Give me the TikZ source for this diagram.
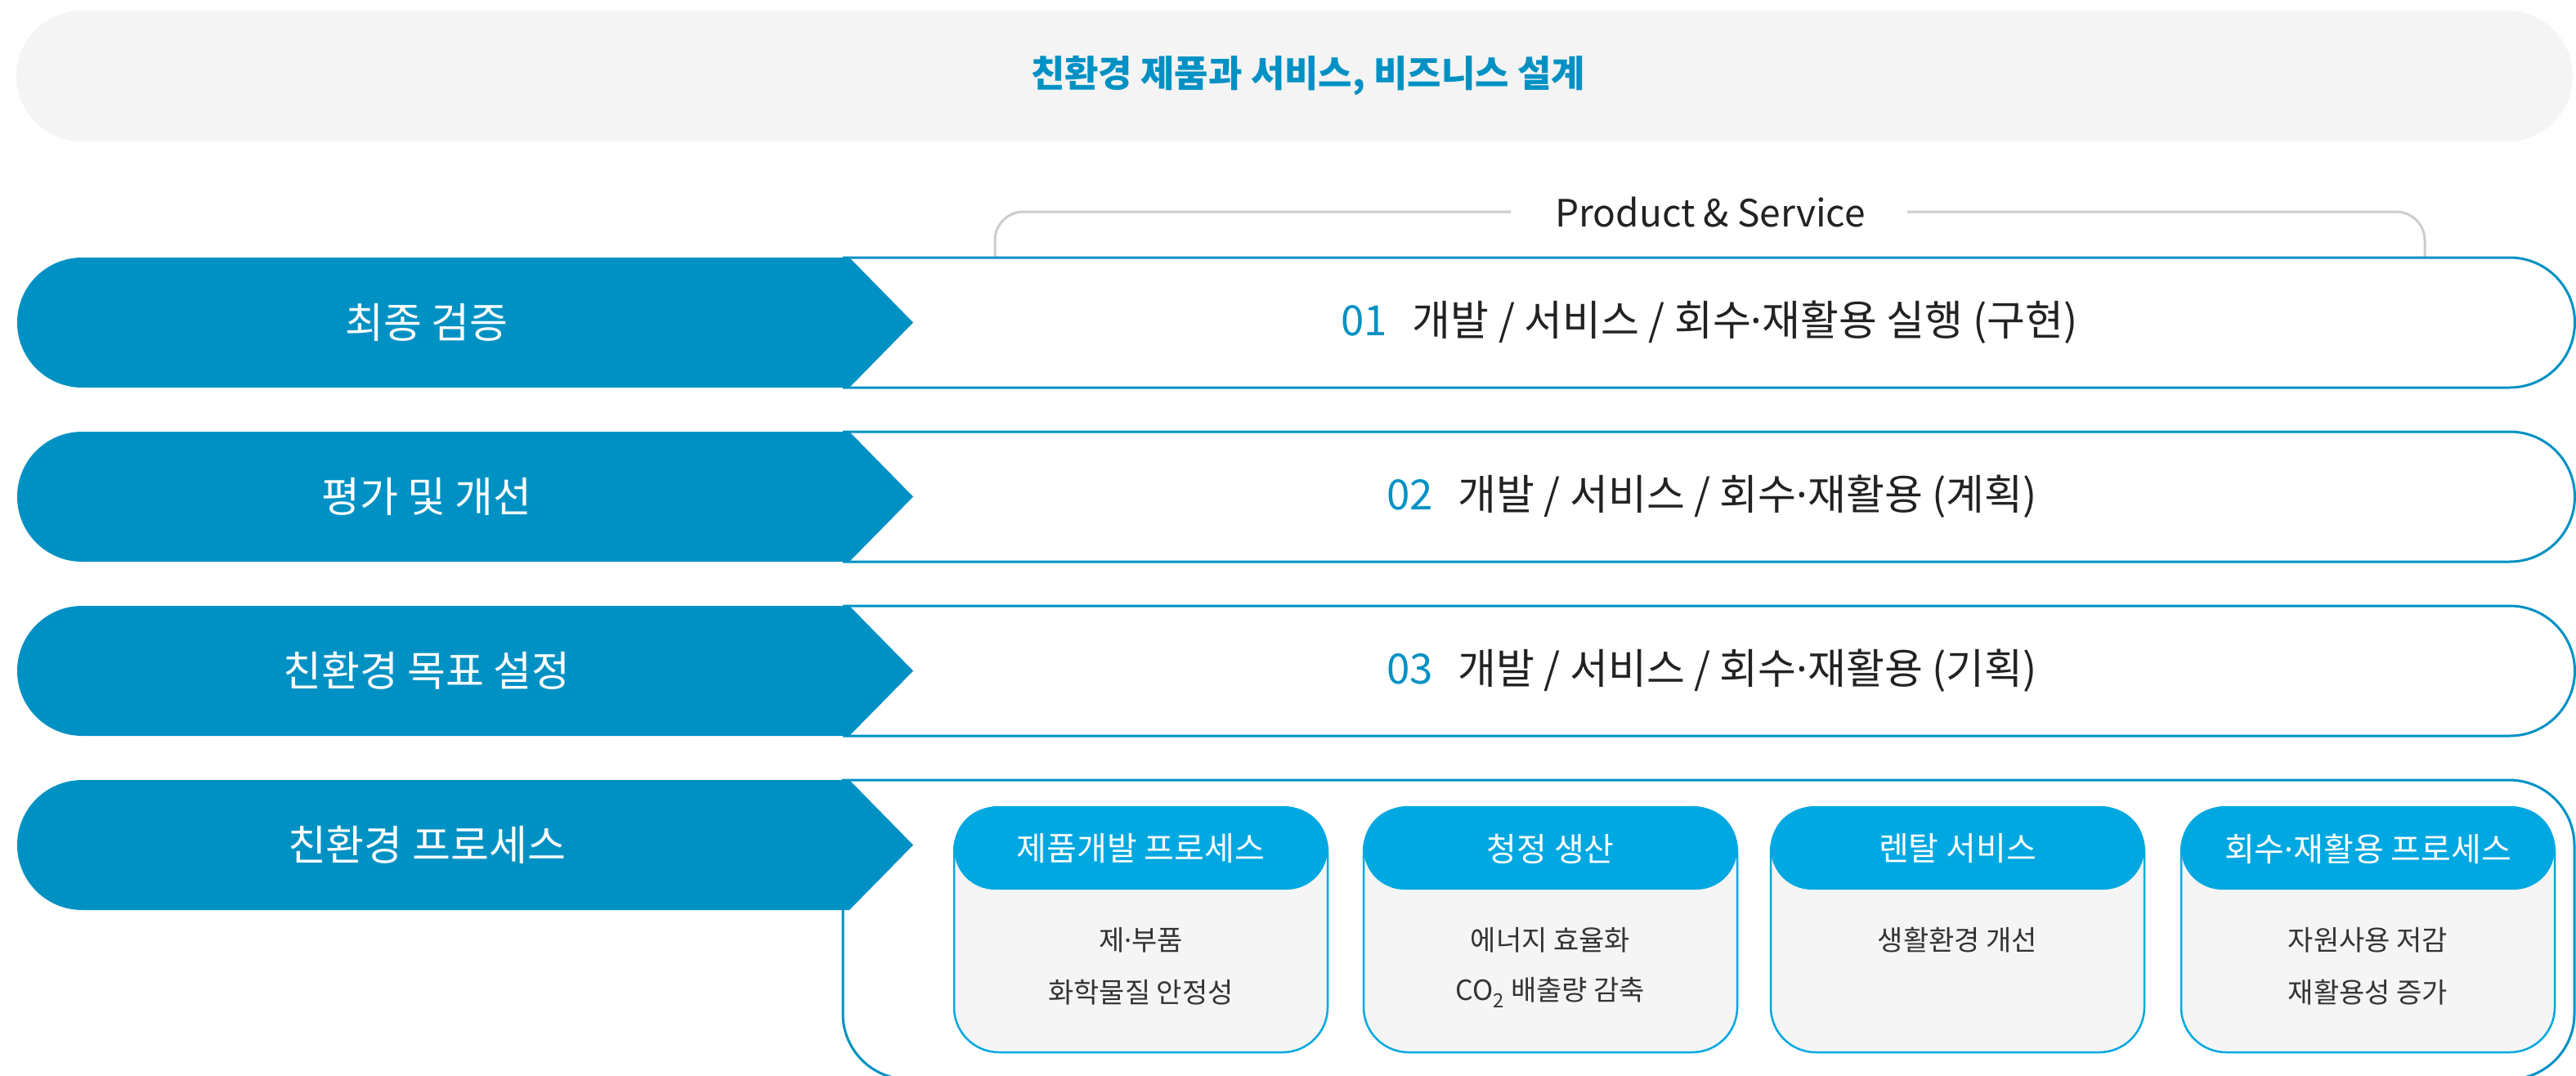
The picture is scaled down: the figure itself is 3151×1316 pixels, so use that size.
\documentclass[tikz,border=0pt]{standalone}
\usepackage{fontspec}
\setmainfont{Noto Sans CJK KR}
\newfontfamily\latinfont{Noto Sans}
\newcommand{\kdot}{{\latinfont ·}}
\definecolor{deepblue}{HTML}{0091C4}
\definecolor{lightblue}{HTML}{00A8E1}
\definecolor{bargray}{HTML}{F4F4F4}
\definecolor{boxgray}{HTML}{F5F5F5}
\definecolor{darktext}{HTML}{222222}
\definecolor{bodytext}{HTML}{333333}
\definecolor{bracketgray}{HTML}{CCCCCC}
\begin{document}
\begin{tikzpicture}[x=1pt,y=1pt,
  rowline/.style={draw=deepblue, line width=3pt},
  bracket/.style={draw=bracketgray, line width=3pt, rounded corners=35pt},
  boxline/.style={draw=lightblue, line width=2.5pt, fill=boxgray, rounded corners=55pt},
  lbl/.style={text=white, inner sep=0pt, font=\fontsize{51}{60}\selectfont},
  rowtxt/.style={text=darktext, inner sep=0pt, font=\fontsize{51}{60}\selectfont},
  titletxt/.style={text=deepblue, inner sep=0pt, font=\fontsize{45}{54}\selectfont\bfseries},
  pstxt/.style={text=darktext, inner sep=0pt, font=\fontsize{46}{54}\selectfont},
  hdrtxt/.style={text=white, inner sep=0pt, font=\fontsize{40}{48}\selectfont},
  bodytxt/.style={text=bodytext, inner sep=0pt, font=\fontsize{34}{40}\selectfont}]
\useasboundingbox (0,0) rectangle (3151,-1316);
\clip (0,0) rectangle (3151,-1316);
% top bar
\fill[bargray, rounded corners=80pt] (20,-13) rectangle (3147,-173);
\node[titletxt] (title) at (1600,-93) {친환경 제품과 서비스, 비즈니스 설계};
% Product & Service bracket
\node[pstxt] (ps) at (2092,-259) {Product \& Service};
\draw[bracket] ([xshift=-54pt]ps.west) -- (1217,-259) -- (1217,-315);
\draw[bracket] ([xshift=51pt]ps.east) -- (2966,-259) -- (2966,-315);
% outlines rows 1-3
\foreach \t in {315,528,741} {
  \draw[rowline] (1031,-\t) -- (3070,-\t) arc[start angle=90,end angle=-90,radius=79.5] -- (1031,-\t-159);
}
% outline row 4
\draw[rowline] (1031,-954) -- (3069,-954) arc[start angle=90,end angle=0,radius=80]
  -- (3149,-1240) arc[start angle=0,end angle=-90,radius=80]
  -- (1111,-1320) arc[start angle=270,end angle=180,radius=80] -- cycle;
% blue chevrons
\foreach \t in {315,528,741,954} {
  \fill[deepblue] (1039,-\t) -- (1117,-\t-79.5) -- (1039,-\t-159) -- (100.5,-\t-159)
    arc[start angle=270,end angle=90,radius=79.5] -- cycle;
}
\node[lbl] (lab1) at (522,-394.5) {최종 검증};
\node[lbl] (lab2) at (522,-607.5) {평가 및 개선};
\node[lbl] (lab3) at (522,-820.5) {친환경 목표 설정};
\node[lbl] (lab4) at (522,-1033.5) {친환경 프로세스};
\node[rowtxt] (row1) at (2091,-394.5) {\textcolor{deepblue}{01}\hspace{0.6em}개발 / 서비스 / 회수\kdot 재활용 실행 (구현)};
\node[rowtxt] (row2) at (2094,-607.5) {\textcolor{deepblue}{02}\hspace{0.6em}개발 / 서비스 / 회수\kdot 재활용 (계획)};
\node[rowtxt] (row3) at (2094,-820.5) {\textcolor{deepblue}{03}\hspace{0.6em}개발 / 서비스 / 회수\kdot 재활용 (기획)};
% sub boxes
\foreach \x in {1167,1668,2166,2668} {
  \draw[boxline] (\x,-987) rectangle ++(457,-300);
  \fill[lightblue, rounded corners=50pt] (\x,-987) rectangle ++(457,-101);
}
\node[hdrtxt] (h1) at (1395.5,-1038) {제품개발 프로세스};
\node[hdrtxt] (h2) at (1896.5,-1038) {청정 생산};
\node[hdrtxt] (h3) at (2394.5,-1038) {렌탈 서비스};
\node[hdrtxt] (h4) at (2896.5,-1038) {회수\kdot 재활용 프로세스};
\node[bodytxt] (b1a) at (1395.5,-1150) {제\kdot 부품};
\node[bodytxt] (b1b) at (1395.5,-1214) {화학물질 안정성};
\node[bodytxt] (b2a) at (1896.5,-1150) {에너지 효율화};
\node[bodytxt] (b2b) at (1896.5,-1214) {CO\textsubscript{2} 배출량 감축};
\node[bodytxt] (b3a) at (2394.5,-1150) {생활환경 개선};
\node[bodytxt] (b4a) at (2896.5,-1150) {자원사용 저감};
\node[bodytxt] (b4b) at (2896.5,-1214) {재활용성 증가};
\end{tikzpicture}
\end{document}
